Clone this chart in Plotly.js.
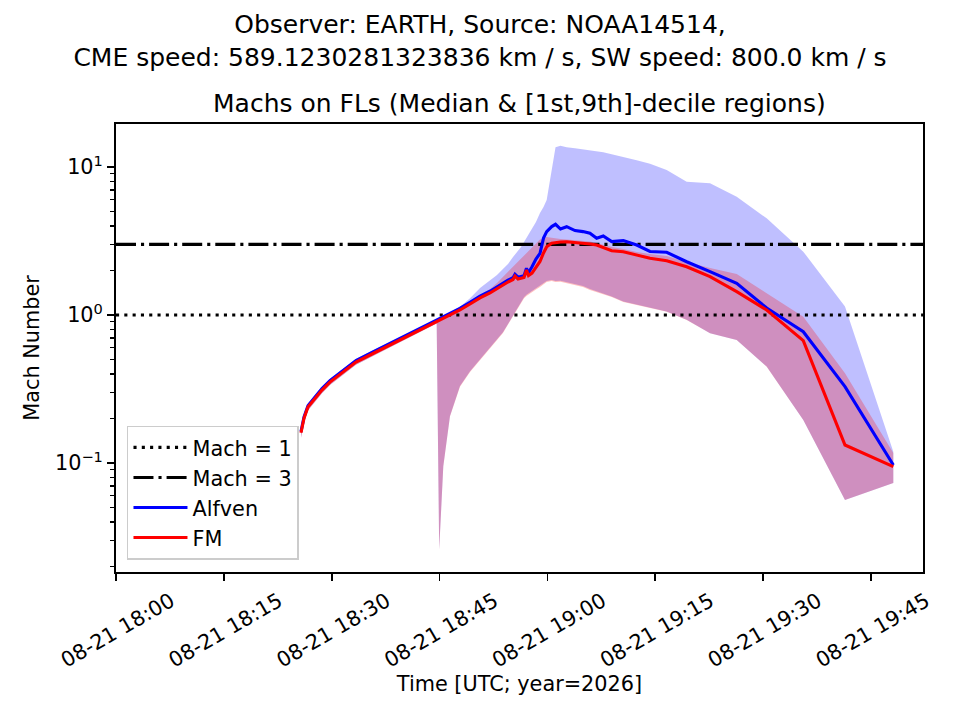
<!DOCTYPE html>
<html>
<head>
<meta charset="utf-8">
<script src="https://cdn.plot.ly/plotly-3.0.1.min.js"></script>
<style>html,body{margin:0;padding:0;background:#fff;}#chart{width:960px;height:720px;}</style>
</head>
<body>
<div id="chart"></div>
<script>
// minutes after 2026-08-21 18:00 UTC
const minutesAfter1800 = [25.73, 26.15, 26.70, 27.68, 28.65, 29.76, 31.15, 33.38, 35.61, 38.11,
  40.19, 42.28, 44.60, 44.95, 45.52, 46.45, 47.84, 49.24, 50.63, 52.02,
  52.99, 53.82, 54.52, 55.22, 55.49, 55.91, 56.33, 56.75, 57.09, 57.37,
  57.86, 58.41, 58.97, 59.46, 59.90, 60.60, 61.13, 61.82, 62.68, 63.84,
  64.95, 65.92, 66.85, 67.77, 68.94, 70.56, 72.42, 74.27, 76.59, 79.37,
  82.62, 86.33, 90.50, 95.59, 101.39, 108.11];

const alfvenMedian = [0.163, 0.205, 0.244, 0.281, 0.318, 0.360, 0.408, 0.492, 0.558, 0.642,
  0.716, 0.812, 0.928, 0.945, 0.974, 1.018, 1.110, 1.220, 1.340, 1.448,
  1.553, 1.640, 1.718, 1.787, 1.886, 1.800, 1.828, 1.842, 2.068, 1.93,
  2.12, 2.39, 2.61, 3.31, 3.66, 3.96, 4.10, 3.81, 3.95, 3.72,
  3.66, 3.565, 3.30, 3.42, 3.13, 3.18, 2.97, 2.685, 2.653, 2.29,
  1.962, 1.637, 1.115, 0.771, 0.328, 0.097];

const fmMedian = [0.160, 0.201, 0.239, 0.275, 0.311, 0.352, 0.399, 0.481, 0.545, 0.627,
  0.699, 0.792, 0.905, 0.922, 0.950, 0.992, 1.081, 1.187, 1.303, 1.408,
  1.51, 1.595, 1.671, 1.738, 1.834, 1.75, 1.778, 1.792, 2.013, 1.849,
  1.921, 2.11, 2.299, 2.624, 2.894, 3.051, 3.09, 3.11, 3.126, 3.09,
  3.065, 3.02, 2.97, 2.858, 2.719, 2.678, 2.543, 2.415, 2.327, 2.12,
  1.815, 1.437, 1.081, 0.671, 0.1323, 0.0944];

const alfvenDecile1 = [0.148, 0.188, 0.226, 0.261, 0.296, 0.336, 0.381, 0.462, 0.525, 0.605,
  0.676, 0.768, 0.875, 0.0262, 0.0955, 0.208, 0.331, 0.416, 0.502, 0.604,
  0.685, 0.764, 0.870, 0.990, 1.045, 1.13, 1.22, 1.32, 1.37, 1.40,
  1.46, 1.515, 1.575, 1.65, 1.70, 1.725, 1.70, 1.705, 1.665, 1.62,
  1.57, 1.50, 1.45, 1.405, 1.335, 1.235, 1.175, 1.12, 1.056, 0.927,
  0.753, 0.679, 0.448, 0.195, 0.0562, 0.0733];

const alfvenDecile9 = [0.166, 0.212, 0.252, 0.290, 0.328, 0.371, 0.420, 0.505, 0.572, 0.657,
  0.733, 0.830, 0.948, 0.965, 0.995, 1.040, 1.135, 1.30, 1.52, 1.70,
  1.864, 2.045, 2.21, 2.465, 2.56, 2.70, 2.88, 3.11, 3.31, 3.47,
  3.81, 4.25, 4.89, 5.37, 5.98, 9.25, 13.6, 13.9, 13.6, 13.4,
  13.2, 12.9, 12.8, 12.6, 12.2, 11.7, 11.1, 10.5, 9.55, 7.95,
  7.76, 6.3, 4.5, 2.68, 1.14, 0.119];

const fmDecile1 = [0.148, 0.188, 0.226, 0.261, 0.296, 0.336, 0.381, 0.462, 0.525, 0.605,
  0.676, 0.768, 0.875, 0.0258, 0.0944, 0.206, 0.328, 0.412, 0.497, 0.598,
  0.678, 0.756, 0.861, 0.978, 1.03, 1.113, 1.20, 1.297, 1.344, 1.376,
  1.43, 1.487, 1.546, 1.62, 1.671, 1.697, 1.671, 1.679, 1.637, 1.595,
  1.546, 1.475, 1.43, 1.386, 1.323, 1.224, 1.168, 1.115, 1.053, 0.925,
  0.752, 0.678, 0.4475, 0.195, 0.0562, 0.0733];

const fmDecile9 = [0.166, 0.212, 0.252, 0.290, 0.328, 0.371, 0.420, 0.505, 0.572, 0.657,
  0.733, 0.830, 0.948, 0.965, 0.995, 1.040, 1.135, 1.250, 1.380, 1.50,
  1.645, 1.806, 1.952, 2.11, 2.18, 2.28, 2.41, 2.54, 2.64, 2.73,
  2.88, 3.065, 3.24, 3.31, 3.365, 3.33, 3.29, 3.26, 3.24, 3.21,
  3.18, 3.14, 3.065, 2.97, 2.88, 2.79, 2.666, 2.58, 2.50, 2.28,
  2.078, 1.892, 1.402, 0.974, 0.404, 0.117];

const machLevels = [1, 3];
const machNames = ['Mach = 1', 'Mach = 3'];
const xLimitMinutes = [0, 112.24];
const yTickValues = [0.1, 1, 10];
const yTickText = ['10<sup>\u22121</sup>', '10<sup>0</sup>', '10<sup>1</sup>'];

function toTime(m) {
  const ms = Date.UTC(2026, 7, 21, 18, 0, 0) + Math.round(m * 60000);
  return new Date(ms).toISOString().replace('T', ' ').slice(0, 23);
}
const times = minutesAfter1800.map(toTime);
const xRange = xLimitMinutes.map(toTime);

const FONT = 'DejaVu Sans, Liberation Sans, sans-serif';
const TICKFS = 20.8;

function band(lo, hi, color) {
  return [
    {x: times, y: lo, mode: 'lines', line: {width: 0, color: color}, showlegend: false, hoverinfo: 'skip'},
    {x: times, y: hi, mode: 'lines', line: {width: 0, color: color}, fill: 'tonexty', fillcolor: color, showlegend: false, hoverinfo: 'skip'}
  ];
}

const traces = [].concat(
  band(alfvenDecile1, alfvenDecile9, 'rgba(0,0,255,0.25)'),
  band(fmDecile1, fmDecile9, 'rgba(255,0,0,0.25)'),
  [
    {x: xRange, y: [machLevels[0], machLevels[0]], name: machNames[0], mode: 'lines',
     line: {color: 'black', width: 3.1, dash: '3.1px,5.2px'}},
    {x: xRange, y: [machLevels[1], machLevels[1]], name: machNames[1], mode: 'lines',
     line: {color: 'black', width: 3.1, dash: '20px,5px,3.1px,5px'}},
    {x: times, y: alfvenMedian, name: 'Alfven', mode: 'lines', line: {color: 'blue', width: 3.1}},
    {x: times, y: fmMedian, name: 'FM', mode: 'lines', line: {color: 'red', width: 3.1}}
  ]
);

const layout = {
  width: 960, height: 720,
  paper_bgcolor: 'white', plot_bgcolor: 'white',
  margin: {l: 116, r: 37, t: 124, b: 148, pad: 0},
  font: {family: FONT, color: 'black', size: TICKFS},
  title: {
    text: 'Observer: EARTH, Source: NOAA14514,<br>CME speed: 589.1230281323836 km / s, SW speed: 800.0 km / s',
    font: {family: FONT, size: 25, color: 'black'},
    x: 0.5, xref: 'container', xanchor: 'center',
    y: 1 - 33 / 720, yref: 'container', yanchor: 'top'
  },
  showlegend: true,
  legend: {
    x: 0.0136, y: 0.027, xanchor: 'left', yanchor: 'bottom',
    traceorder: 'normal',
    itemwidth: 54,
    bgcolor: 'rgba(255,255,255,0.8)', bordercolor: '#cccccc', borderwidth: 1.5,
    font: {family: FONT, size: TICKFS, color: 'black'},
    tracegroupgap: 0
  },
  xaxis: {
    type: 'date',
    range: xRange,
    tick0: toTime(0), dtick: 15 * 60000,
    tickformat: '%m-%d %H:%M',
    tickangle: -30,
    ticklabelshift: 55,
    ticks: 'outside', ticklen: 7.3, tickwidth: 1.67, tickcolor: 'black',
    showline: true, linecolor: 'black', linewidth: 1.67, mirror: true,
    showgrid: false, zeroline: false,
    tickfont: {family: FONT, size: TICKFS, color: 'black'},
    title: {text: 'Time [UTC; year=2026]', font: {family: FONT, size: TICKFS, color: 'black'}, standoff: 4},
    automargin: false
  },
  yaxis: {
    type: 'log',
    range: [-1.7365, 1.2905],
    tickmode: 'array', tickvals: yTickValues, ticktext: yTickText,
    ticks: 'outside', ticklen: 7.3, tickwidth: 1.67, tickcolor: 'black',
    minor: {ticks: 'outside', dtick: 'D1', ticklen: 4.2, tickwidth: 1.25, tickcolor: 'black', showgrid: false},
    showline: true, linecolor: 'black', linewidth: 1.67, mirror: true,
    showgrid: false, zeroline: false,
    tickfont: {family: FONT, size: TICKFS, color: 'black'},
    title: {text: 'Mach Number', font: {family: FONT, size: TICKFS, color: 'black'}, standoff: 10},
    automargin: false
  },
  annotations: [{
    text: 'Machs on FLs (Median & [1st,9th]-decile regions)',
    xref: 'paper', yref: 'paper', x: 0.5, y: 1 + 21 / 448,
    xanchor: 'center', yanchor: 'middle', showarrow: false,
    font: {family: FONT, size: 25, color: 'black'}
  }]
};

Plotly.newPlot('chart', traces, layout, {displayModeBar: false, staticPlot: true});
</script>
</body>
</html>
